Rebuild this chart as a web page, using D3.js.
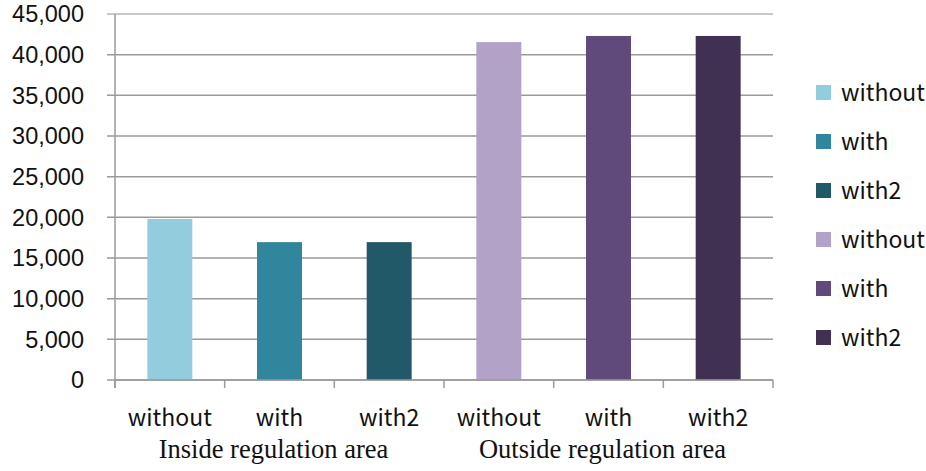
<!DOCTYPE html>
<html>
<head>
<meta charset="utf-8">
<script src="https://cdn.jsdelivr.net/npm/d3@7/dist/d3.min.js"></script>
<style>
  html, body { margin: 0; padding: 0; background: #fff; }
  svg { display: block; }
</style>
</head>
<body>
<svg id="chart" width="926" height="471"></svg>
<script>
// Bar categories (x axis, lower row) and the groups they belong to
const categories = ["without", "with", "with2", "without", "with", "with2"];
const groups = ["Inside regulation area", "Outside regulation area"];
const groupOf = [0, 0, 0, 1, 1, 1];
// Bar heights
const values = [19800, 16950, 16950, 41550, 42300, 42300];
// Bar fills, one per series
const colors = ["#93CDDD", "#31859C", "#215968", "#B3A2C7", "#604A7B", "#403152"];
// y axis ticks
const yTicks = [0, 5000, 10000, 15000, 20000, 25000, 30000, 35000, 40000, 45000];

const svg = d3.select("#chart");
const margin = { left: 115, right: 153, top: 14, bottom: 91 };
const W = 926, H = 471;
const plotW = W - margin.left - margin.right;
const plotH = H - margin.top - margin.bottom;

const sansFont = "'Noto Sans CJK JP', 'Noto Sans', sans-serif";
const numFont = "'Liberation Sans', Arial, sans-serif";
const serifFont = "'Liberation Serif', 'DejaVu Serif', serif";

const x = d3.scaleBand()
  .domain(d3.range(categories.length))
  .range([margin.left, margin.left + plotW])
  .paddingInner(0).paddingOuter(0);

const y = d3.scaleLinear()
  .domain([0, 45000])
  .range([margin.top + plotH, margin.top]);

const fmt = d3.format(",");

// Horizontal gridlines, extended left past the axis as tick marks
svg.append("g")
  .selectAll("line")
  .data(yTicks)
  .join("line")
  .attr("x1", margin.left - 8)
  .attr("x2", margin.left + plotW)
  .attr("y1", d => y(d))
  .attr("y2", d => y(d))
  .attr("stroke", d => d === 45000 ? "#b4b4b4" : "#9a9a9a")
  .attr("stroke-width", 1.5);

// Y tick labels
svg.append("g")
  .selectAll("text")
  .data(yTicks)
  .join("text")
  .attr("x", 84)
  .attr("y", d => y(d))
  .attr("dy", "0.36em")
  .attr("text-anchor", "end")
  .attr("font-family", numFont)
  .attr("font-size", 23.5)
  .attr("fill", "#111")
  .text(d => fmt(d));

// Bars
const barW = x.bandwidth() * 0.41;
svg.append("g")
  .selectAll("rect")
  .data(values)
  .join("rect")
  .attr("x", (d, i) => x(i) + (x.bandwidth() - barW) / 2)
  .attr("y", d => y(d))
  .attr("width", barW)
  .attr("height", d => y(0) - y(d))
  .attr("fill", (d, i) => colors[i]);

// Vertical axis line
svg.append("line")
  .attr("x1", margin.left).attr("x2", margin.left)
  .attr("y1", margin.top).attr("y2", y(0) + 8)
  .attr("stroke", "#9a9a9a").attr("stroke-width", 1.5);

// Baseline and category tick marks
svg.append("line")
  .attr("x1", margin.left).attr("x2", margin.left + plotW)
  .attr("y1", y(0)).attr("y2", y(0))
  .attr("stroke", "#9a9a9a").attr("stroke-width", 1.5);
svg.append("g")
  .selectAll("line")
  .data(d3.range(categories.length + 1))
  .join("line")
  .attr("x1", i => margin.left + i * x.bandwidth())
  .attr("x2", i => margin.left + i * x.bandwidth())
  .attr("y1", y(0))
  .attr("y2", y(0) + 8)
  .attr("stroke", "#9a9a9a").attr("stroke-width", 1.5);

// Category labels
svg.append("g")
  .selectAll("text")
  .data(categories)
  .join("text")
  .attr("x", (d, i) => x(i) + x.bandwidth() / 2)
  .attr("y", 426)
  .attr("text-anchor", "middle")
  .attr("font-family", sansFont)
  .attr("font-size", 23)
  .attr("fill", "#111")
  .text(d => d);

// Group labels
svg.append("g")
  .selectAll("text")
  .data(groups)
  .join("text")
  .attr("x", (d, g) => {
    const idx = groupOf.map((v, i) => v === g ? i : -1).filter(i => i >= 0);
    return (x(idx[0]) + x(idx[idx.length - 1]) + x.bandwidth()) / 2 - 6;
  })
  .attr("y", 458)
  .attr("text-anchor", "middle")
  .attr("font-family", serifFont)
  .attr("font-size", 26.5)
  .attr("fill", "#111")
  .text(d => d);

// Legend
const legend = svg.append("g")
  .selectAll("g")
  .data(categories)
  .join("g")
  .attr("transform", (d, i) => `translate(816, ${85 + i * 49})`);
legend.append("rect")
  .attr("width", 15).attr("height", 15)
  .attr("fill", (d, i) => colors[i]);
legend.append("text")
  .attr("x", 25)
  .attr("y", 7.5)
  .attr("dy", "0.36em")
  .attr("font-family", sansFont)
  .attr("font-size", 23)
  .attr("fill", "#111")
  .text(d => d);
</script>
</body>
</html>
